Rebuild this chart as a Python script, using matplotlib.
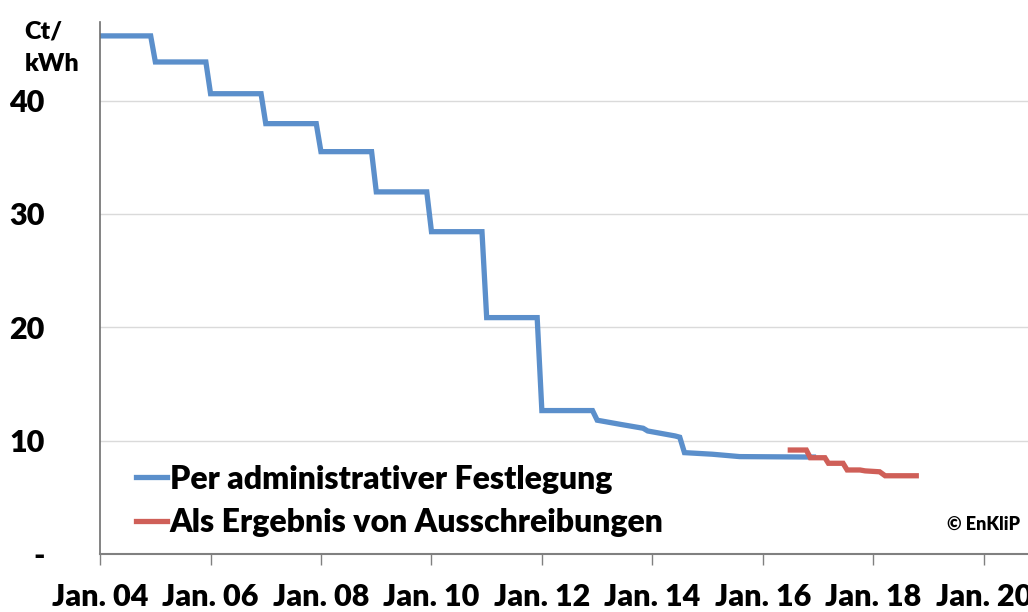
import numpy as np
import pandas as pd
import matplotlib
matplotlib.use("Agg")
import matplotlib.pyplot as plt
import matplotlib.dates as mdates

# vertices of the two feed-in tariff lines (ct/kWh)
admin_dates = ["2004-01-01", "2004-12-01", "2005-01-01", "2005-12-01", "2006-01-01",
               "2006-12-01", "2007-01-01", "2007-12-01", "2008-01-01", "2008-12-01",
               "2009-01-01", "2009-12-01", "2010-01-01", "2010-12-01", "2011-01-01",
               "2011-12-01", "2012-01-01", "2012-12-01", "2013-01-01", "2013-06-01",
               "2013-11-01", "2013-12-01", "2014-06-01", "2014-07-01", "2014-08-01",
               "2015-02-01", "2015-08-01", "2016-12-01"]
admin_vals = [45.7, 45.7, 43.4, 43.4, 40.6,
              40.6, 37.96, 37.96, 35.49, 35.49,
              31.94, 31.94, 28.43, 28.43, 20.85,
              20.85, 12.65, 12.65, 11.8, 11.44,
              11.09, 10.85, 10.41, 10.3, 8.94,
              8.8, 8.59, 8.55]

tender_dates = ["2016-07-01", "2016-10-15", "2016-11-10", "2017-02-15", "2017-03-10",
                "2017-06-15", "2017-07-12", "2017-10-05", "2017-11-08", "2018-02-12",
                "2018-03-20", "2018-10-12"]
tender_vals = [9.17, 9.17, 8.49, 8.49, 8.0,
               8.0, 7.41, 7.41, 7.33, 7.25,
               6.9, 6.9]

labels = ["Per administrativer Festlegung", "Als Ergebnis von Ausschreibungen"]
xtick_years = list(range(2004, 2021, 2))
yticks = [0, 10, 20, 30, 40]
ytick_labels = ["-", "10", "20", "30", "40"]

FONT = "Lato"
W = "heavy"
blue = "#5B8FCB"
red = "#CF5F58"

fig = plt.figure(figsize=(10.28, 6.12), dpi=100)
ax = fig.add_axes([0.0973, 0.0948, 0.9027, 0.8697])

ax.plot(pd.to_datetime(admin_dates), admin_vals, color=blue, lw=3.8,
        solid_joinstyle="miter", label=labels[0])
ax.plot(pd.to_datetime(tender_dates), tender_vals, color=red, lw=3.8,
        solid_joinstyle="miter", label=labels[1])

ax.set_xlim(pd.Timestamp("2004-01-01"), pd.Timestamp("2020-10-20"))
ax.set_ylim(0, 46.95)

xt = [pd.Timestamp(f"{y}-01-01") for y in xtick_years]
ax.set_xticks(xt)
ax.set_xticklabels([f"Jan. {y % 100:02d}" for y in xtick_years],
                   fontfamily=FONT, fontweight=W, fontsize=22)
ax.tick_params(axis="x", direction="out", length=8, width=1, color="#808080", pad=13)

ax.set_yticks(yticks)
ax.set_yticklabels(ytick_labels, fontfamily=FONT, fontweight=W, fontsize=22)
ax.tick_params(axis="y", length=0, pad=40)
for t in ax.get_yticklabels():
    t.set_horizontalalignment("right")

ax.grid(axis="y", color="#DADADA", lw=1)
ax.set_axisbelow(True)
for s in ["top", "right"]:
    ax.spines[s].set_visible(False)
ax.spines["left"].set_color("#6E6E6E")
ax.spines["bottom"].set_color("#808080")
ax.spines["left"].set_linewidth(1.2)
ax.spines["bottom"].set_linewidth(1.5)

fig.text(0.024, 0.948, "Ct/", fontfamily=FONT, fontweight=W, fontsize=18,
         va="center", ha="left")
fig.text(0.024, 0.895, "kWh", fontfamily=FONT, fontweight=W, fontsize=18,
         va="center", ha="left")

leg = ax.legend(loc="lower left", bbox_to_anchor=(0.008, -0.022), frameon=False,
                handlelength=0.97, handletextpad=0.08, labelspacing=0.45,
                prop={"family": FONT, "weight": W, "size": 23})

fig.text(0.992, 0.143, "\u00a9 EnKliP", fontfamily=FONT, fontweight=W,
         fontsize=13, ha="right", va="center")

fig.savefig("out.png", dpi=100)
